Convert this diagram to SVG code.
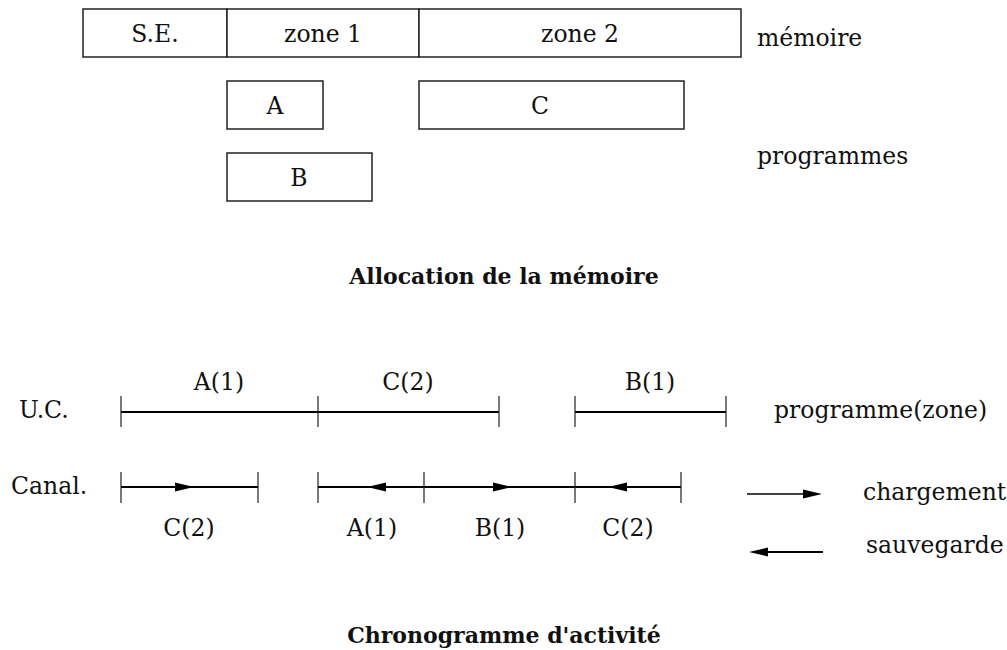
<svg xmlns="http://www.w3.org/2000/svg" xmlns:xlink="http://www.w3.org/1999/xlink" width="1007" height="650" viewBox="0 0 1007 650">
  <style>
    .box { fill: #fff; stroke: #222; stroke-width: 1.5; }
    .t { font-family: "DejaVu Serif", "Liberation Serif", serif; font-size: 23.5px; fill: #111; }
    .mid { text-anchor: middle; }
    .title { font-family: "DejaVu Serif", "Liberation Serif", serif; font-size: 22px; font-weight: bold; fill: #111; text-anchor: middle; }
    .span { stroke: #000; stroke-width: 2; fill: none; }
    .tick { stroke: #222; stroke-width: 1.2; fill: none; }
    .leg { stroke: #000; stroke-width: 1.5; fill: none; }
  </style>
  <defs>
    <!-- filled arrowhead pointing right, tip at origin -->
    <polygon id="headR" points="0,0 -19,-4.5 -19,4.5" fill="#000"/>
    <!-- filled arrowhead pointing left, tip at origin -->
    <polygon id="headL" points="0,0 19,-4.5 19,4.5" fill="#000"/>
  </defs>
  <rect width="1007" height="650" fill="#fff"/>

  <!-- memory layout -->
  <g id="mem-se">
    <rect class="box" x="83" y="9" width="144" height="48"/>
    <text class="t mid" x="155" y="42">S.E.</text>
  </g>
  <g id="mem-zone1">
    <rect class="box" x="227" y="9" width="192" height="48"/>
    <text class="t mid" x="323" y="42">zone 1</text>
  </g>
  <g id="mem-zone2">
    <rect class="box" x="419" y="9" width="322" height="48"/>
    <text class="t mid" x="580" y="42">zone 2</text>
  </g>
  <g id="prog-a">
    <rect class="box" x="227" y="81" width="96" height="48"/>
    <text class="t mid" x="275" y="114">A</text>
  </g>
  <g id="prog-c">
    <rect class="box" x="419" y="81" width="265" height="48"/>
    <text class="t mid" x="540" y="114">C</text>
  </g>
  <g id="prog-b">
    <rect class="box" x="227" y="153" width="145" height="48"/>
    <text class="t mid" x="299" y="186">B</text>
  </g>
  <g id="labels-top">
    <text class="t" x="757" y="46">mémoire</text>
    <text class="t" x="757" y="164">programmes</text>
    <text class="title" x="504" y="284">Allocation de la mémoire</text>
  </g>

  <!-- timeline -->
  <g id="connectors">
    <!-- U.C. row -->
    <path class="span" d="M121,412 H499 M575,412 H726"/>
    <path class="tick" d="M121,396 V427 M318,396 V427 M499,396 V427 M575,396 V427 M726,396 V427"/>
    <!-- channel row -->
    <path class="span" d="M121,487 H258 M318,487 H681"/>
    <path class="tick" d="M121,472 V503 M258,472 V503 M318,472 V503 M424,472 V503 M575,472 V503 M681,472 V503"/>
    <use xlink:href="#headR" x="194" y="487"/>
    <use xlink:href="#headL" x="367" y="487"/>
    <use xlink:href="#headR" x="512" y="487"/>
    <use xlink:href="#headL" x="608" y="487"/>
    <!-- legend arrows -->
    <path class="leg" d="M747,494 H810"/>
    <use xlink:href="#headR" x="822" y="494"/>
    <path class="span" d="M760,552 H823"/>
    <use xlink:href="#headL" x="749" y="552"/>
  </g>

  <g id="labels-timeline">
    <text class="t" x="19" y="418">U.C.</text>
    <text class="t" x="11" y="494">Canal.</text>
    <text class="t mid" x="219" y="390">A(1)</text>
    <text class="t mid" x="408" y="390">C(2)</text>
    <text class="t mid" x="650" y="390">B(1)</text>
    <text class="t mid" x="189" y="536">C(2)</text>
    <text class="t mid" x="372" y="536">A(1)</text>
    <text class="t mid" x="500" y="536">B(1)</text>
    <text class="t mid" x="628" y="536">C(2)</text>
    <text class="t" x="774" y="418">programme(zone)</text>
    <text class="t" x="863" y="500">chargement</text>
    <text class="t" x="866" y="553">sauvegarde</text>
    <text class="title" x="504" y="643">Chronogramme d'activité</text>
  </g>
</svg>
